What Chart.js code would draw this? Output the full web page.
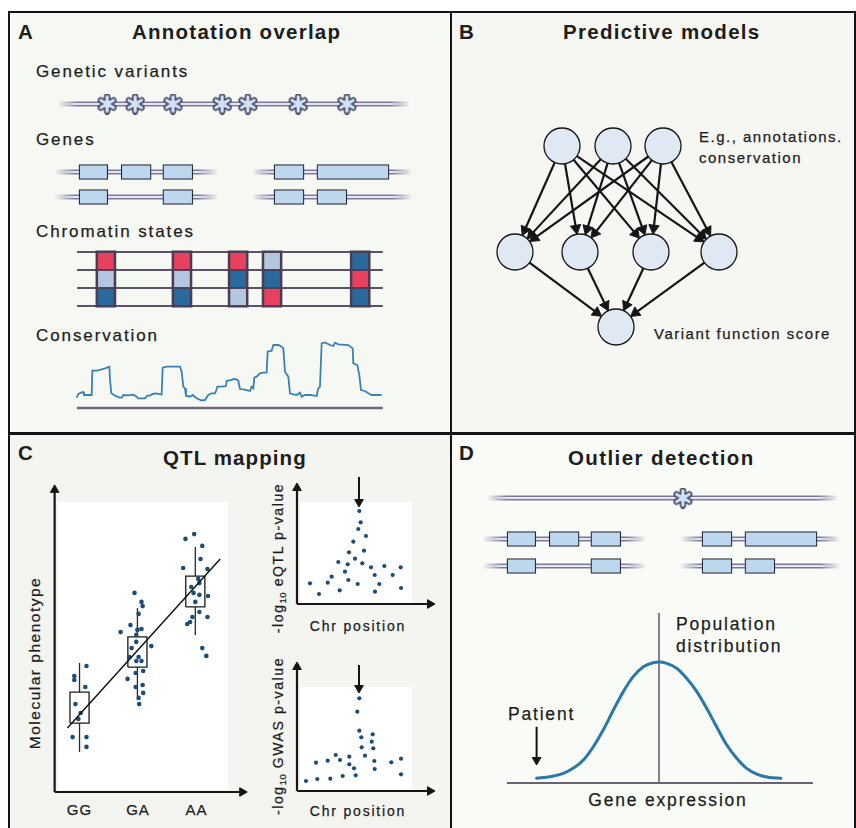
<!DOCTYPE html>
<html>
<head>
<meta charset="utf-8">
<title>Approaches to variant function</title>
<script src="https://cdn.jsdelivr.net/npm/chart.js@4.4.1/dist/chart.umd.min.js"></script>
<style>
  body { margin: 0; background: #fff; }
  #fig { position: relative; width: 856px; height: 828px; overflow: hidden;
         font-family: "Liberation Sans", Arial, Helvetica, sans-serif; color: #1d1d1d; }
  #fig div { position: absolute; }
  #fig canvas { position: absolute; }
  .t { line-height: 1; white-space: nowrap; -webkit-text-stroke: 0.25px #1d1d1d; }
  .head { font-size: 20.5px; font-weight: bold; -webkit-text-stroke: 0; }
  .lab { font-size: 17px; letter-spacing: 1.9px; }
  .sm { font-size: 15px; letter-spacing: 1.5px; }
  .ax { font-size: 14px; letter-spacing: 1.8px; }
  .geno { font-size: 15px; letter-spacing: 1px; transform: translateX(-50%); }
  .mid { transform: translateX(-50%); }
  .rot { transform: translate(-50%, -50%) rotate(-90deg); }
  .d { font-size: 17.5px; letter-spacing: 1.8px; }
  .rule { background: #141414; }
  sub { font-size: 9.5px; line-height: 0; vertical-align: -3px; letter-spacing: 0.5px; }
</style>
</head>
<body>
<div id="fig">
  <!-- panel backgrounds -->
  <div style="left:9px;top:13px;width:441px;height:419px;background:#f6f9f3"></div>
  <div style="left:452px;top:13px;width:402px;height:419px;background:#f6f6f2"></div>
  <div style="left:9px;top:435px;width:441px;height:393px;background:#f4f4f0"></div>
  <div style="left:452px;top:435px;width:402px;height:393px;background:#f9fbf7"></div>
  <!-- white plot areas in C -->
  <div style="left:58px;top:502px;width:170px;height:288px;background:#fff"></div>
  <div style="left:300px;top:502px;width:112px;height:101px;background:#fff"></div>
  <div style="left:300px;top:687px;width:112px;height:103px;background:#fff"></div>
  <!-- frame -->
  <div class="rule" style="left:8px;top:11px;width:848px;height:2px"></div>
  <div class="rule" style="left:8px;top:11px;width:2px;height:817px"></div>
  <div class="rule" style="left:450px;top:11px;width:2px;height:817px"></div>
  <div class="rule" style="left:854px;top:11px;width:2px;height:817px"></div>
  <div class="rule" style="left:8px;top:432px;width:848px;height:3px"></div>

  <!-- A -->
  <div class="t head" style="left:18px;top:22.3px">A</div>
  <div class="t head" style="left:132px;top:22.3px;letter-spacing:1.25px">Annotation overlap</div>
  <div class="t lab" style="left:36px;top:63.2px">Genetic variants</div>
  <div class="t lab" style="left:36px;top:131.1px">Genes</div>
  <div class="t lab" style="left:36px;top:223.3px">Chromatin states</div>
  <div class="t lab" style="left:36px;top:327px">Conservation</div>
  <!-- B -->
  <div class="t head" style="left:459px;top:22.3px">B</div>
  <div class="t head" style="left:563px;top:22.3px;letter-spacing:1.3px">Predictive models</div>
  <div class="t sm" style="left:699px;top:129px">E.g., annotations.</div>
  <div class="t sm" style="left:699px;top:150px">conservation</div>
  <div class="t sm" style="left:654px;top:326.3px">Variant function score</div>
  <!-- C -->
  <div class="t head" style="left:18px;top:443px">C</div>
  <div class="t head" style="left:163px;top:447.8px;letter-spacing:1.1px">QTL mapping</div>
  <div class="t rot" style="left:35px;top:662.5px;font-size:15.5px;letter-spacing:1.5px">Molecular phenotype</div>
  <div class="t geno" style="left:79.5px;top:801.5px">GG</div>
  <div class="t geno" style="left:138px;top:801.5px">GA</div>
  <div class="t geno" style="left:196.5px;top:801.5px">AA</div>
  <div class="t ax mid" style="left:358px;top:619.2px">Chr position</div>
  <div class="t ax mid" style="left:358px;top:804.2px">Chr position</div>
  <div class="t ax rot" style="left:277.5px;top:557.5px;letter-spacing:1.6px">-log<sub>10</sub> eQTL p-value</div>
  <div class="t ax rot" style="left:277.5px;top:736px;letter-spacing:1.6px">-log<sub>10</sub> GWAS p-value</div>
  <!-- D -->
  <div class="t head" style="left:459px;top:443px">D</div>
  <div class="t head" style="left:568px;top:447.8px;letter-spacing:1.4px">Outlier detection</div>
  <div class="t d" style="left:676px;top:616px">Population</div>
  <div class="t d" style="left:676px;top:637.5px">distribution</div>
  <div class="t d" style="left:508px;top:706px">Patient</div>
  <div class="t d mid" style="left:668px;top:791.7px">Gene expression</div>
</div>

<script>
// ---------- A: annotation overlap (x = kb along the locus) ----------
const locusSpan = [4.6, 94.9];
const variantKb = [17.2, 24.4, 34.1, 46.7, 53.3, 66.2, 78.7];
const geneSpans = [[3.8, 45.6], [54.4, 95.4]];
const exonsTx1 = [[10, 17.4], [20.8, 28.5], [31.5, 39.2], [60, 67.7], [71, 89.5]];
const exonsTx2 = [[10, 17.4], [31.5, 39.2], [60, 67.7], [71, 78.7]];
const chromSpan = [9.5, 87.9];
const chromKb = [16.9, 36.4, 50.8, 59.5, 82.1];
const chromTop = ['active', 'active', 'active', 'weak', 'repressed'];
const chromMid = ['weak', 'weak', 'repressed', 'repressed', 'active'];
const chromBot = ['repressed', 'repressed', 'weak', 'active', 'repressed'];
const consKb = [9.40, 9.83, 10.68, 11.11, 11.28, 11.96, 13.25, 13.42, 14.53, 15.81,
  16.66, 17.78, 17.95, 18.29, 19.23, 20.34, 20.94, 21.37, 22.65, 23.93,
  24.78, 25.21, 26.92, 27.52, 28.2, 28.63, 29.48, 31.19, 31.45, 32.48,
  35.9, 36.32, 36.75, 37.18, 37.43, 38.46, 39.14, 40.17, 41.28, 42.31,
  43.16, 44.01, 44.87, 45.3, 45.47, 46.58, 47.69, 47.86, 49.14, 49.57,
  50.42, 50.85, 51.28, 52.13, 52.99, 53.84, 54.27, 54.7, 54.96, 55.55,
  56.41, 57.26, 58.12, 58.37, 59.4, 59.83, 61.11, 61.96, 62.39, 62.82,
  63.67, 64.1, 64.96, 65.81, 66.66, 67.09, 67.95, 69.23, 70.94, 71.36,
  71.79, 72.22, 73.07, 74.36, 75.21, 75.64, 76.49, 79.06, 80.17, 80.34,
  81.36, 81.88, 82.31, 83.33, 84.19, 85.04, 87.6];
const consScore = [.148, .200, .224, .229, .181, .186, .186, .533, .533, .552,
  .567, .590, .400, .210, .176, .148, .148, .186, .181, .190,
  .162, .138, .138, .176, .176, .195, .210, .195, .576, .590,
  .590, .519, .305, .281, .176, .162, .186, .138, .110, .114,
  .186, .210, .210, .267, .305, .305, .314, .386, .400, .414,
  .410, .390, .271, .267, .257, .243, .305, .281, .433, .448,
  .495, .505, .505, .805, .819, .900, .900, .876, .852, .519,
  .448, .210, .195, .186, .219, .162, .186, .186, .171, .281,
  .305, .924, .938, .900, .886, .933, .910, .900, .852, .638,
  .614, .471, .257, .243, .210, .186, .186];

// ---------- B: predictive model (layout units) ----------
const inputX = [11.1, 16.2, 21.2];
const hiddenX = [6.4, 12.9, 20.0, 26.8];
const outputX = [16.5];
const layerY = [13.3, 23.9, 31.4];

// ---------- C: QTL mapping ----------
const genotypes = ['GG', 'GA', 'AA'];
const genoPos = [1, 2, 3];
const ggX = [1.12, 0.91, 0.91, 1.10, 0.93, 1.02, 0.98, 0.88, 1.12, 1.12];
const ggY = [4.5, 4.14, 4.0, 3.75, 3.14, 2.82, 2.61, 1.96, 1.96, 1.61];
const gaX = [1.95, 2.07, 2.09, 2.02, 1.88, 1.71, 2.0, 2.07, 1.98, 1.98, 1.9, 2.24,
  1.86, 2.02, 2.07, 1.98, 2.1, 1.83, 1.97, 2.09, 1.97, 2.1, 2.02, 2.03];
const gaY = [7.11, 6.79, 6.64, 6.36, 5.96, 5.71, 5.79, 5.82, 5.61, 5.36, 5.14, 5.21,
  4.82, 4.82, 4.68, 4.68, 4.32, 4.04, 4.25, 3.82, 3.75, 3.54, 3.36, 3.14];
const aaX = [2.83, 2.98, 3.12, 3.09, 2.79, 3.21, 3.05, 2.93, 3.07, 2.97, 3.07, 3.22,
  3.0, 3.07, 2.95, 2.91, 2.86, 3.21, 3.12, 3.19];
const aaY = [9.04, 9.21, 8.79, 8.32, 8.0, 7.96, 7.61, 7.32, 7.46, 7.11, 7.04, 7.0,
  6.79, 6.43, 6.25, 6.07, 6.0, 6.25, 5.14, 4.86];
const boxQ1 = [2.46, 4.46, 6.61];
const boxQ3 = [3.57, 5.54, 7.71];
const whiskerLo = [1.43, 3.43, 5.61];
const whiskerHi = [4.61, 6.57, 8.75];
const fitX = [0.79, 3.43];
const fitY = [2.29, 8.32];
const eqtlPos = [6.23, 6.37, 6.13, 6.9, 5.63, 6.7, 5.2, 5.8, 4.13, 5.07, 6.53, 7.4, 8.73, 10.37,
  4.8, 3.47, 7.77, 9.57, 5.13, 3.07, 1.3, 6.07, 8.23, 4.27, 7.8, 10.4, 2.2];
const eqtlLogP = [9.3, 8.17, 7.5, 6.8, 6.23, 5.33, 5.17, 4.53, 4.2, 3.97, 4.07, 3.67, 3.8, 3.67,
  3.23, 2.73, 2.9, 2.9, 2.4, 2.13, 2.07, 2.0, 2.0, 1.37, 1.23, 1.6, 1.0];
const gwasPos = [6.23, 6.03, 6.23, 6.43, 7.57, 6.47, 7.47, 7.63, 6.8, 5.23, 3.87, 4.3, 3.07,
  1.9, 7.73, 9.43, 10.4, 5.23, 5.7, 7.77, 10.4, 5.87, 4.57, 3.33, 2.03, 0.9];
const gwasLogP = [9.27, 7.93, 6.03, 5.37, 5.67, 4.37, 4.93, 4.27, 3.53, 3.43, 3.6, 3.1, 3.03,
  2.83, 3.0, 2.87, 3.23, 2.67, 2.27, 2.2, 1.67, 1.57, 1.5, 1.23, 1.2, 1.0];
const leadSnp = 6.2;

// ---------- D: outlier detection ----------
const locusSpanD = [4.9, 94.9];
const variantKbD = [55.1];
const exprX = [-4.08, -3.63, -3.19, -2.86, -2.52, -2.19, -1.86, -1.52, -1.19, -0.86, -0.52, -0.19,
  0, 0.26, 0.59, 0.92, 1.26, 1.59, 1.92, 2.26, 2.59, 2.92, 3.26, 3.64, 4.06];
const exprDensity = [0.039, 0.052, 0.080, 0.121, 0.19, 0.30, 0.438, 0.603, 0.755, 0.879, 0.961, 0.994,
  1.0, 0.989, 0.948, 0.865, 0.755, 0.617, 0.465, 0.314, 0.204, 0.121, 0.074, 0.047, 0.039];
const exprRange = [-5.07, 5.13];
const patientExpr = -4.08;

// ---------- helpers ----------
const fig = document.getElementById('fig');
const INK = '#151515';
const EXON = '#bdd8ee';
const stateColor = { active: '#e8415f', weak: '#b3c7de', repressed: '#29699b' };

function plot(left, top, w, h, xr, yr, datasets, rev) {
  const cv = document.createElement('canvas');
  cv.width = w; cv.height = h;
  cv.style.left = left + 'px'; cv.style.top = top + 'px';
  fig.appendChild(cv);
  return new Chart(cv, {
    type: 'scatter',
    data: { datasets },
    options: {
      responsive: false, animation: false, events: [],
      layout: { padding: 0, autoPadding: false },
      plugins: { legend: { display: false }, tooltip: { enabled: false } },
      scales: {
        x: { type: 'linear', min: xr[0], max: xr[1], display: false, offset: false },
        y: { type: 'linear', min: yr[0], max: yr[1], display: false, offset: false, reverse: !!rev }
      }
    }
  });
}
const xy = (xs, ys) => xs.map((x, i) => ({ x, y: ys[i] }));
const seg = (pts, color, width, order) => ({
  type: 'line', data: pts, borderColor: color, borderWidth: width, pointRadius: 0,
  fill: false, tension: 0, order: order == null ? 3 : order, clip: false
});
const heads = (pts, rots, r) => ({
  data: pts, pointStyle: 'triangle', pointRadius: r || 5, pointRotation: rots,
  backgroundColor: INK, borderColor: INK, borderWidth: 1, order: 1, clip: false
});
const dots = (xs, ys, r) => ({
  data: xy(xs, ys), pointRadius: r, backgroundColor: '#1b4d77', borderWidth: 0, order: 1
});

// chromosome-style double line that fades out at both ends
function fade(x0, x1, rgb) {
  return c => {
    const ch = c.chart;
    if (!ch.chartArea) return 'rgb(' + rgb + ')';
    const a = ch.scales.x.getPixelForValue(x0), b = ch.scales.x.getPixelForValue(x1);
    const f = Math.min(0.45, 20 / (b - a));
    const g = ch.ctx.createLinearGradient(a, 0, b, 0);
    g.addColorStop(0, 'rgba(' + rgb + ',0)');
    g.addColorStop(f, 'rgba(' + rgb + ',1)');
    g.addColorStop(1 - f, 'rgba(' + rgb + ',1)');
    g.addColorStop(1, 'rgba(' + rgb + ',0)');
    return g;
  };
}
function chromo(x0, x1, y) {
  const pts = [{ x: x0, y }, { x: x1, y }];
  return [
    { ...seg(pts, '#827a9c', 5, 4), borderColor: fade(x0, x1, '128,120,156') },
    { ...seg(pts, '#e2e9f4', 1.8, 3), borderColor: fade(x0, x1, '226,233,244') }
  ];
}

// outlined asterisk used for variants
function asterisk(size) {
  const c = document.createElement('canvas');
  c.width = c.height = size;
  const g = c.getContext('2d'), m = size / 2, r = size / 2 - 3.2;
  const arms = () => {
    g.beginPath();
    for (let k = 0; k < 6; k++) {
      const a = -Math.PI / 2 + k * Math.PI / 3;
      g.moveTo(m, m); g.lineTo(m + r * Math.cos(a), m + r * Math.sin(a));
    }
    g.stroke();
  };
  g.lineCap = 'round';
  g.strokeStyle = '#34304e'; g.lineWidth = 6.2; arms();
  g.strokeStyle = '#cfe3f6'; g.lineWidth = 3.4; arms();
  return c;
}
const star = asterisk(21);

function variantTrack(left, top, w, xMax, span, pos) {
  plot(left, top, w, 28, [0, xMax], [-1, 1], [
    ...chromo(span[0], span[1], 0),
    { data: pos.map(x => ({ x, y: 0 })), pointStyle: star, order: 0, clip: false }
  ]);
}
function geneTrack(left, top, w, h, xMax) {
  const lines = [];
  [1, 2].forEach(row => geneSpans.forEach(s => lines.push(...chromo(s[0], s[1], row))));
  const exons = exonsTx1.map(e => ({ x: e, y: 1 })).concat(exonsTx2.map(e => ({ x: e, y: 2 })));
  plot(left, top, w, h, [0, xMax], [0, 3], [
    ...lines,
    { type: 'bar', indexAxis: 'y', data: exons, backgroundColor: EXON, borderColor: '#2d2b3a',
      borderWidth: 1.3, borderSkipped: false, barThickness: 15, grouped: false, order: 0 }
  ], true);
}

// ---------- panel A ----------
variantTrack(40, 90, 390, 100, locusSpan, variantKb);
geneTrack(40, 147, 390, 75, 100);

const cells = [], cellColors = [];
[chromBot, chromMid, chromTop].forEach((lvl, k) => lvl.forEach((s, i) => {
  cells.push({ x: chromKb[i], y: [k + 0.07, k + 0.93] });
  cellColors.push(stateColor[s]);
}));
plot(40, 243, 390, 72, [0, 100], [-0.5, 3.5], [
  ...[0, 1, 2, 3].map(k => seg([{ x: chromSpan[0], y: k }, { x: chromSpan[1], y: k }], '#5d5068', 1.8, 3)),
  { type: 'bar', data: chromKb.map(x => ({ x, y: [-0.07, 3.07] })), backgroundColor: '#4a3c55',
    borderWidth: 0, barThickness: 20, grouped: false, order: 2 },
  { type: 'bar', data: cells, backgroundColor: cellColors, borderWidth: 0,
    barThickness: 15, grouped: false, order: 1 }
]);

plot(40, 335, 390, 80, [0, 100], [-0.1, 1.043], [
  seg([{ x: chromSpan[0], y: 0 }, { x: chromSpan[1], y: 0 }], '#6f6678', 2.5, 3),
  seg(xy(consKb, consScore), '#3a80b4', 1.8, 2)
]);

// ---------- panel B ----------
const PX = 10, NODE_R = 18, HEAD_R = 6;
const inputs = inputX.map(x => ({ x, y: layerY[0] }));
const hidden = hiddenX.map(x => ({ x, y: layerY[1] }));
const outputs = outputX.map(x => ({ x, y: layerY[2] }));
const edges = [];
inputs.forEach(a => hidden.forEach(b => edges.push([a, b])));
hidden.forEach(a => outputs.forEach(b => edges.push([a, b])));
const arrowLines = [], headPts = [], headRot = [];
edges.forEach(([a, b]) => {
  const dx = b.x - a.x, dy = b.y - a.y, L = Math.hypot(dx, dy), ux = dx / L, uy = dy / L;
  const s = { x: a.x + ux * NODE_R / PX, y: a.y + uy * NODE_R / PX };
  const h = { x: b.x - ux * (NODE_R + HEAD_R) / PX, y: b.y - uy * (NODE_R + HEAD_R) / PX };
  arrowLines.push(seg([s, h], INK, 2.2, 3));
  headPts.push(h);
  headRot.push(Math.atan2(ux, -uy) * 180 / Math.PI);
});
plot(451, 13, 405, 420, [0, 40.5], [0, 42], [
  ...arrowLines,
  heads(headPts, headRot, HEAD_R),
  { data: inputs.concat(hidden, outputs), pointRadius: NODE_R, backgroundColor: '#dfe8f3',
    borderColor: INK, borderWidth: 1.3, order: 0, clip: false }
], true);

// ---------- panel C ----------
const HW = 0.165;
const boxes = [], whiskers = [];
genoPos.forEach((g, i) => {
  boxes.push(seg([{ x: g - HW, y: boxQ1[i] }, { x: g + HW, y: boxQ1[i] }, { x: g + HW, y: boxQ3[i] },
    { x: g - HW, y: boxQ3[i] }, { x: g - HW, y: boxQ1[i] }], '#1a1a1a', 1.3, 2));
  whiskers.push(seg([{ x: g, y: whiskerLo[i] }, { x: g, y: boxQ1[i] }], '#2a2a2a', 1.3, 2));
  whiskers.push(seg([{ x: g, y: boxQ3[i] }, { x: g, y: whiskerHi[i] }], '#2a2a2a', 1.3, 2));
});
plot(39, 470, 220, 350, [0.3, 4.1], [-1, 11.5], [
  seg([{ x: 0.57, y: 0 }, { x: 0.57, y: 10.79 }], INK, 2.2, 3),
  seg([{ x: 0.57, y: 0 }, { x: 3.81, y: 0 }], INK, 2.2, 3),
  heads([{ x: 0.57, y: 10.79 }, { x: 3.81, y: 0 }], [0, 90]),
  ...boxes, ...whiskers,
  dots(ggX, ggY, 2.3), dots(gaX, gaY, 2.3), dots(aaX, aaY, 2.3),
  seg(xy(fitX, fitY), INK, 1.5, 0)
]);

function manhattan(top, h, yMin, yMax, yTip, arrowFrom, arrowHead, pos, logp) {
  plot(290, top, 155, h, [-0.7, 14.8], [yMin, yMax], [
    seg([{ x: 0, y: 0 }, { x: 0, y: yTip }], INK, 2.2, 3),
    seg([{ x: 0, y: 0 }, { x: 13.3, y: 0 }], INK, 2.2, 3),
    seg([{ x: leadSnp, y: arrowFrom }, { x: leadSnp, y: arrowHead }], INK, 2, 3),
    heads([{ x: 0, y: yTip }, { x: 13.3, y: 0 }, { x: leadSnp, y: arrowHead }], [0, 90, 180]),
    dots(pos, logp, 2.1)
  ]);
}
manhattan(475, 135, -0.6, 12.9, 11.6, 12.7, 10.2, eqtlPos, eqtlLogP);
manhattan(655, 145, -0.9, 13.6, 12.4, 12.6, 10.3, gwasPos, gwasLogP);

// ---------- panel D ----------
variantTrack(468, 484, 388, 99.49, locusSpanD, variantKbD);
geneTrack(468, 512, 388, 81, 99.49);
plot(500, 600, 330, 195, [-5.3, 5.7], [-0.099, 1.512], [
  seg([{ x: exprRange[0], y: 0 }, { x: exprRange[1], y: 0 }], '#6b6174', 2, 3),
  seg([{ x: 0, y: 0 }, { x: 0, y: 1.405 }], '#6b6174', 1.6, 3),
  { ...seg(xy(exprX, exprDensity), '#2a77aa', 3, 1), cubicInterpolationMode: 'monotone', borderCapStyle: 'round' },
  seg([{ x: patientExpr, y: 0.465 }, { x: patientExpr, y: 0.19 }], INK, 2, 3),
  heads([{ x: patientExpr, y: 0.19 }], [180])
]);
</script>
</body>
</html>
